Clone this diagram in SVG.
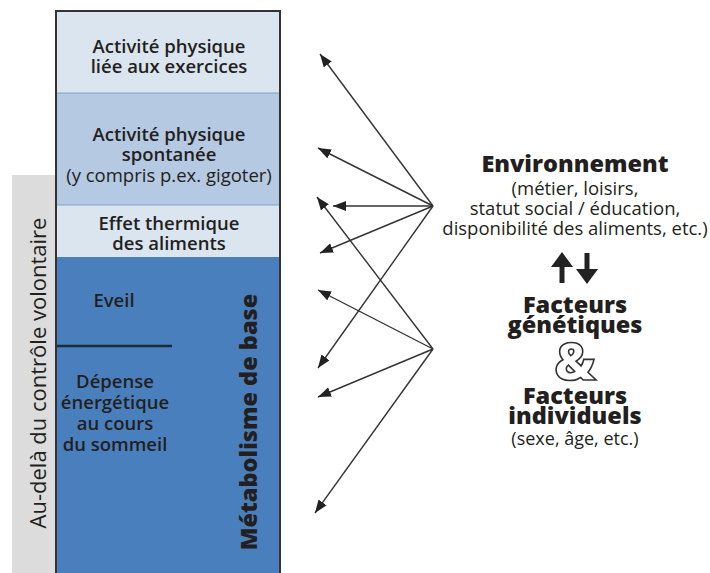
<svg xmlns="http://www.w3.org/2000/svg" width="710" height="573" viewBox="0 0 710 573">
<defs>
<marker id="ah" viewBox="0 0 13 10" refX="13" refY="5" markerWidth="13" markerHeight="10" markerUnits="userSpaceOnUse" orient="auto">
<path d="M0,0 L13,5 L0,10 Z" fill="#222"/>
</marker>
</defs>
<style>
text{font-family:"Open Sans","Liberation Sans",sans-serif;fill:#231f20;text-anchor:middle}
.sb{font-weight:600;font-size:18.5px}
.rg{font-size:18.5px}
.bk{font-weight:800;font-size:23.5px}
.conn line{stroke:#333;stroke-width:1.4;marker-end:url(#ah)}
</style>
<rect x="12" y="175" width="44" height="398" fill="#dcdcdc"/>
<g id="col">
<rect x="56" y="11" width="224" height="82" fill="#dbe5f0"/>
<rect x="56" y="93" width="224" height="112" fill="#b5c9e3"/>
<rect x="56" y="205" width="224" height="52" fill="#dbe5f0"/>
<rect x="56" y="257" width="224" height="316" fill="#4a7fbe"/>
<line x1="56" y1="93" x2="280" y2="93" stroke="#7fa3cf" stroke-width="1.2"/>
<line x1="56" y1="205" x2="280" y2="205" stroke="#7fa3cf" stroke-width="1.2"/>
<line x1="56" y1="346" x2="172" y2="346" stroke="#1d2a3a" stroke-width="2.5"/>
<path d="M56,573 V11 H280 V573" fill="none" stroke="#333" stroke-width="2"/>
</g>
<g id="n1"><text class="sb" x="169" y="53">Activité physique</text><text class="sb" x="169" y="73">liée aux exercices</text></g>
<g id="n2"><text class="sb" x="169" y="141">Activité physique</text><text class="sb" x="169" y="161">spontanée</text><text class="rg" x="169" y="182">(y compris p.ex. gigoter)</text></g>
<g id="n3"><text class="sb" x="169" y="230">Effet thermique</text><text class="sb" x="169" y="250">des aliments</text></g>
<g id="n4"><text class="sb" x="114" y="307">Eveil</text></g>
<g id="n5"><text class="sb" x="115" y="388">Dépense</text><text class="sb" x="115" y="409">énergétique</text><text class="sb" x="115" y="430">au cours</text><text class="sb" x="115" y="451">du sommeil</text></g>
<g id="n6"><text class="bk" transform="translate(257,422) rotate(-90)" style="font-size:23.5px">Métabolisme de base</text></g>
<g id="n7"><text transform="translate(46,373) rotate(-90)" style="font-size:22px">Au-delà du contrôle volontaire</text></g>
<g id="n8"><text class="bk" x="575" y="172">Environnement</text><text class="rg" x="575" y="195">(métier, loisirs,</text><text class="rg" x="575" y="215">statut social / éducation,</text><text class="rg" x="575" y="235">disponibilité des aliments, etc.)</text></g>
<g id="n9"><line x1="562" y1="283" x2="562" y2="262" stroke="#222" stroke-width="5"/><path d="M551,267 L562,252 L573,267 Z" fill="#222"/><line x1="587" y1="253" x2="587" y2="274" stroke="#222" stroke-width="5"/><path d="M576,269 L587,284 L598,269 Z" fill="#222"/></g>
<g id="n10"><text class="bk" x="575" y="313">Facteurs</text><text class="bk" x="575" y="333">génétiques</text></g>
<g id="n11"><text x="575" y="380" style="font-size:52px;font-weight:800;fill:#fff;stroke:#333;stroke-width:1.6">&amp;</text></g>
<g id="n12"><text class="bk" x="575" y="404">Facteurs</text><text class="bk" x="575" y="424">individuels</text><text class="rg" x="575" y="445" style="font-size:18px">(sexe, âge, etc.)</text></g>
<g class="conn" id="connectors">
<line x1="433" y1="206" x2="320" y2="54"/>
<line x1="433" y1="206" x2="318" y2="148"/>
<line x1="433" y1="206" x2="333" y2="206"/>
<line x1="433" y1="206" x2="320" y2="253"/>
<line x1="433" y1="206" x2="318" y2="368"/>
<line x1="433" y1="349" x2="317" y2="197"/>
<line x1="433" y1="349" x2="318" y2="290"/>
<line x1="433" y1="349" x2="318" y2="397"/>
<line x1="433" y1="349" x2="315" y2="513"/>
</g>
</svg>
